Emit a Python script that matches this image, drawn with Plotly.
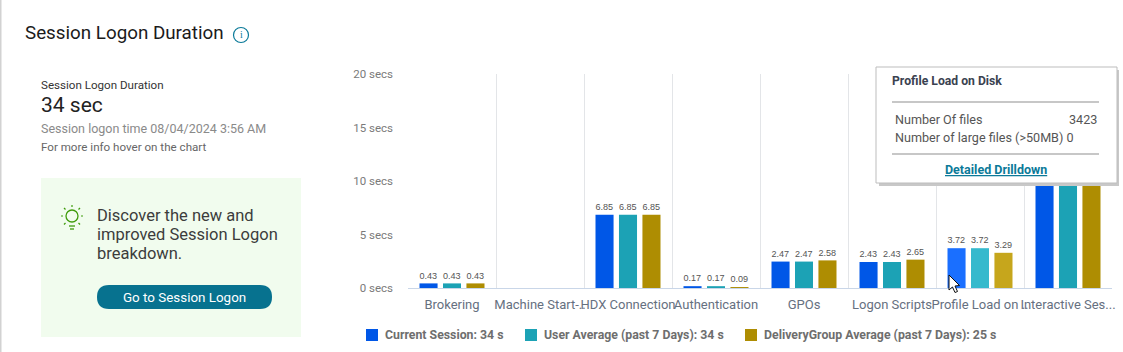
import plotly.graph_objects as go

W, H = 1123, 352
categories = ["Brokering", "Machine Start-..", "HDX Connection", "Authentication", "GPOs",
              "Logon Scripts", "Profile Load on ..", "Interactive Ses..."]
current_session = [0.43, None, 6.85, 0.17, 2.47, 2.43, 3.72, 17.9]
user_average = [0.43, None, 6.85, 0.17, 2.47, 2.43, 3.72, 17.9]
group_average = [0.43, None, 6.85, 0.09, 2.58, 2.65, 3.29, 11.0]
series_names = ["Current Session: 34 s", "User Average (past 7 Days): 34 s",
                "DeliveryGroup Average (past 7 Days): 25 s"]
series_colors = ["#0057e7", "#1ca2b5", "#ae8d02"]
hover_colors = ["#1a6fff", "#35b9cd", "#c6a61c"]
hover_index = 6
y_ticks = [0, 5, 10, 15, 20]

FONT = "Roboto"
fig = go.Figure()
for name, vals, col, hov in zip(series_names, [current_session, user_average, group_average],
                                series_colors, hover_colors):
    fig.add_bar(x=categories, y=vals, name=name,
                marker=dict(color=[hov if i == hover_index else col for i in range(len(vals))],
                            line=dict(width=4, color="rgba(0,0,0,0)")),
                text=[None if v is None else f"{v:.2f}" for v in vals],
                textposition="outside", cliponaxis=False,
                textfont=dict(family="Liberation Sans", size=10, color="#555555"),
                hoverinfo="skip")


def px(x):
    return x / W


def py(y):
    return 1 - y / H


shapes, annos = [], []


def rect(x0, y0, x1, y1, fill, line=None, layer="above"):
    shapes.append(dict(type="rect", xref="paper", yref="paper", x0=px(x0), x1=px(x1), y0=py(y0), y1=py(y1),
                       fillcolor=fill, line=dict(color=line or fill, width=1 if line else 0), layer=layer))


def seg(x0, y0, x1, y1, color, width=1, layer="above"):
    shapes.append(dict(type="line", xref="paper", yref="paper", x0=px(x0), x1=px(x1), y0=py(y0), y1=py(y1),
                       line=dict(color=color, width=width), layer=layer))


def text(x, y, s, size, color, anchor="left", family=FONT):
    annos.append(dict(xref="paper", yref="paper", x=px(x), y=py(y), text=s, showarrow=False, xanchor=anchor,
                      yanchor="middle", borderpad=0, borderwidth=0,
                      font=dict(family=family, size=size, color=color)))


def circle(cx, cy, r, color, width=1.3):
    shapes.append(dict(type="circle", xref="paper", yref="paper", x0=px(cx - r), x1=px(cx + r),
                       y0=py(cy - r), y1=py(cy + r), line=dict(color=color, width=width), layer="above"))


def path(points, fill, line, width=1):
    d = "M" + " L".join(f"{px(a):.5f},{py(b):.5f}" for a, b in points) + " Z"
    shapes.append(dict(type="path", xref="paper", yref="paper", path=d, fillcolor=fill,
                       line=dict(color=line, width=width), layer="above"))


# page edge
rect(0, 0, 1.5, H, "#d2d2d2")

# header
text(25, 33, "Session Logon Duration", 18.8, "#1b1b1b")
circle(241, 35, 7.5, "#0b7a99", 1.2)
text(241, 35, "i", 10, "#0b7a99", "center", "Liberation Serif")

# left summary
text(41, 85, "Session Logon Duration", 11.6, "#333333")
text(41, 105, "34 sec", 21, "#222222")
text(41, 128, "Session logon time 08/04/2024 3:56 AM", 12.5, "#8a8a8a")
text(41, 147, "For more info hover on the chart", 11.6, "#666666")

# green panel
rect(41, 178, 301, 337, "#f1fcee", layer="below")
text(97, 215, "Discover the new and", 16.5, "#3c3c3c")
text(97, 234, "improved Session Logon", 16.5, "#3c3c3c")
text(97, 253, "breakdown.", 16.5, "#3c3c3c")
green = "#3f9b0b"
circle(72, 216, 6, green, 1.3)
seg(69, 226, 75, 226, green, 1.3)
seg(70, 229, 74, 229, green, 1.3)
for a, b, c, d in [(72, 207, 72, 205), (63, 216, 61, 216), (81, 216, 83, 216),
                   (65.5, 209.5, 64, 208), (78.5, 209.5, 80, 208), (65.5, 223, 64, 224.5), (78.5, 223, 80, 224.5)]:
    seg(a, b, c, d, green, 1.2)

# button
bx0, bx1, by0, by1, r = 97, 272, 285, 309, 12
shapes.append(dict(type="path", xref="paper", yref="paper", layer="above", fillcolor="#07728f", line_width=0,
                   path=(f"M{px(bx0 + r)},{py(by0)} L{px(bx1 - r)},{py(by0)} "
                         f"Q{px(bx1)},{py(by0)} {px(bx1)},{py((by0 + by1) / 2)} "
                         f"Q{px(bx1)},{py(by1)} {px(bx1 - r)},{py(by1)} L{px(bx0 + r)},{py(by1)} "
                         f"Q{px(bx0)},{py(by1)} {px(bx0)},{py((by0 + by1) / 2)} "
                         f"Q{px(bx0)},{py(by0)} {px(bx0 + r)},{py(by0)} Z")))
text(184.5, 297, "Go to Session Logon", 13.4, "#ffffff", "center")

# cursor
path([(949, 275), (949, 290), (952.5, 287), (955, 292.5), (957.5, 291.5), (955, 286), (959.5, 285.5)],
     "#ffffff", "#111111", 1)

# tooltip
rect(879, 70, 1119, 186, "#c8c8c8")
rect(876, 67, 1117, 183, "#ffffff", "#bdbdbd")
seg(892, 102, 1099, 102, "#8f8f8f")
seg(892, 154, 1099, 154, "#8f8f8f")
text(892, 81, "<b>Profile Load on Disk</b>", 12.2, "#3a4250")
text(895, 119.5, "Number Of files", 12.6, "#555555")
text(1097, 119.5, "3423", 12.6, "#555555", "right")
text(895, 137.5, "Number of large files (&gt;50MB) 0", 12.6, "#555555")
text(996, 169, "<b><u>Detailed Drilldown</u></b>", 12.5, "#0b7a99", "center")

# legend
for name, col, sx in zip(series_names, series_colors, [366, 525, 745]):
    rect(sx, 329, sx + 12, 341, col)
    text(sx + 18.5, 335, f"<b>{name}</b>", 12.3, "#6e6e6e")

fig.update_layout(
    width=W, height=H, autosize=False,
    margin=dict(l=0, r=0, t=0, b=0),
    paper_bgcolor="#ffffff", plot_bgcolor="#ffffff",
    barmode="group", bargap=0.2, bargroupgap=0.23,
    font=dict(family=FONT),
    shapes=shapes, annotations=annos,
    showlegend=False,
    xaxis=dict(domain=[px(408), px(1112)], type="category", categoryorder="array", categoryarray=categories,
               tickson="boundaries", showgrid=True, gridcolor="#e3e5e8", gridwidth=1, automargin=False,
               tickangle=0,
               showline=True, linecolor="#c9d6e8", linewidth=1, ticks="", zeroline=False,
               tickfont=dict(family=FONT, size=13, color="#66707f"), ticklabelstandoff=4),
    yaxis=dict(domain=[py(288), py(74)], range=[0, 20], tickmode="array", tickvals=y_ticks, automargin=False,
               ticktext=[f"{t} secs" for t in y_ticks], showgrid=False, zeroline=False, showline=False,
               ticks="", tickfont=dict(family=FONT, size=11.5, color="#7a7a7a"), ticklabelstandoff=14),
)
fig.write_html("out.html", config=dict(displayModeBar=False),
               post_script="document.body.style.margin='0';")
